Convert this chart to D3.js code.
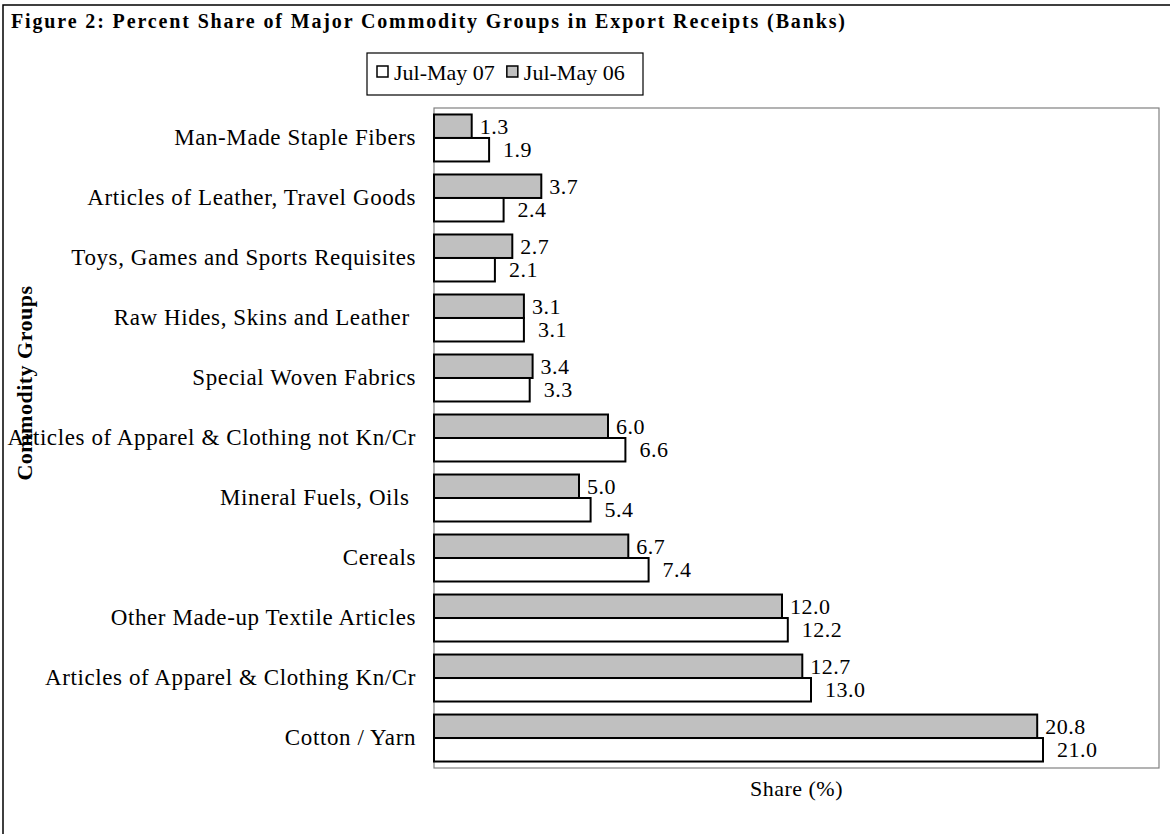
<!DOCTYPE html>
<html><head><meta charset="utf-8">
<script src="https://cdn.jsdelivr.net/npm/d3@7"></script>
<style>
html,body{margin:0;padding:0;background:#fff;}
svg{display:block;font-family:"Liberation Serif","Times New Roman",serif;}
</style></head>
<body>
<svg id="chart" width="1175" height="834"></svg>
<script>
const categories = ["Man-Made Staple Fibers","Articles of Leather, Travel Goods","Toys, Games and Sports Requisites","Raw Hides, Skins and Leather ","Special Woven Fabrics","Articles of Apparel & Clothing not Kn/Cr","Mineral Fuels, Oils ","Cereals","Other Made-up Textile Articles","Articles of Apparel & Clothing Kn/Cr","Cotton / Yarn"];
const julMay07 = [1.9,2.4,2.1,3.1,3.3,6.6,5.4,7.4,12.2,13.0,21.0];
const julMay06 = [1.3,3.7,2.7,3.1,3.4,6.0,5.0,6.7,12.0,12.7,20.8];
const seriesNames = ["Jul-May 07","Jul-May 06"];
const titleText = "Figure 2: Percent Share of Major Commodity Groups in Export Receipts (Banks)";
const xTitle = "Share (%)";
const yTitle = "Commodity Groups";

const svg = d3.select("#chart");
const W = 1175, H = 834;
const plot = {left:434, right:1159, top:108, bottom:768};

// outer frame
svg.append("path").attr("d",`M3,${H} L3,5 L1170,5`).attr("fill","none").attr("stroke","#000").attr("stroke-width",1.5);

// title
svg.append("text").attr("x",11).attr("y",28).attr("font-weight","bold").attr("font-size",20)
  .attr("textLength",834).attr("lengthAdjust","spacing").text(titleText);

const x = d3.scaleLinear().domain([0,25]).range([plot.left, plot.right]);
const y = d3.scaleBand().domain(categories).range([plot.top, plot.bottom]).paddingInner(0.217).paddingOuter(0.108);
const sub = d3.scaleBand().domain(["06","07"]).range([0, y.bandwidth()]);

// plot frame
svg.append("rect").attr("x",plot.left).attr("y",plot.top).attr("width",plot.right-plot.left).attr("height",plot.bottom-plot.top)
  .attr("fill","none").attr("stroke","#808080").attr("stroke-width",1.2);

const rows = categories.map((c,i)=>({c, v07:julMay07[i], v06:julMay06[i]}));

const g = svg.append("g");
rows.forEach(r=>{
  const y0 = y(r.c);
  g.append("rect").attr("x",x(0)).attr("y",y0+sub("06")).attr("width",x(r.v06)-x(0)).attr("height",sub.bandwidth())
    .attr("fill","#c0c0c0").attr("stroke","#000").attr("stroke-width",2);
  g.append("rect").attr("x",x(0)).attr("y",y0+sub("07")).attr("width",x(r.v07)-x(0)).attr("height",sub.bandwidth())
    .attr("fill","#fff").attr("stroke","#000").attr("stroke-width",2);
  g.append("text").attr("x",x(r.v06)+8).attr("y",y0+sub("06")+sub.bandwidth()/2).attr("dy","0.35em")
    .attr("font-size",22).attr("letter-spacing",0.5).text(r.v06.toFixed(1));
  g.append("text").attr("x",x(r.v07)+14).attr("y",y0+sub("07")+sub.bandwidth()/2).attr("dy","0.35em")
    .attr("font-size",22).attr("letter-spacing",0.5).text(r.v07.toFixed(1));
});

// category axis
const yAxis = d3.axisLeft(y).tickSize(0).tickPadding(18);
const ya = svg.append("g").attr("transform",`translate(${plot.left},0)`).call(yAxis);
ya.select(".domain").remove();
ya.selectAll("text").attr("font-size",23).attr("letter-spacing",0.6).attr("fill","#000")
  .attr("font-family","Liberation Serif, Times New Roman, serif").style("white-space","pre");

// axis titles
svg.append("text").attr("x",(plot.left+plot.right)/2).attr("y",796).attr("text-anchor","middle")
  .attr("font-size",22).attr("letter-spacing",0.5).text(xTitle);
svg.append("text").attr("transform","translate(32,383) rotate(-90)").attr("text-anchor","middle")
  .attr("font-size",22).attr("font-weight","bold").attr("letter-spacing",0.5).text(yTitle);

// legend
const leg = svg.append("g");
leg.append("rect").attr("x",367).attr("y",53).attr("width",276).attr("height",42)
  .attr("fill","#fff").attr("stroke","#000").attr("stroke-width",1.2);
const legItems = [{name:seriesNames[0], fill:"#fff"},{name:seriesNames[1], fill:"#c0c0c0"}];
let lx = 377;
legItems.forEach(it=>{
  leg.append("rect").attr("x",lx).attr("y",66).attr("width",11).attr("height",11).attr("fill",it.fill).attr("stroke","#000").attr("stroke-width",1.5);
  const t = leg.append("text").attr("x",lx+17).attr("y",72).attr("dy","0.35em").attr("font-size",22).text(it.name);
  lx += 17 + t.node().getComputedTextLength() + 12;
});
</script>
</body></html>
